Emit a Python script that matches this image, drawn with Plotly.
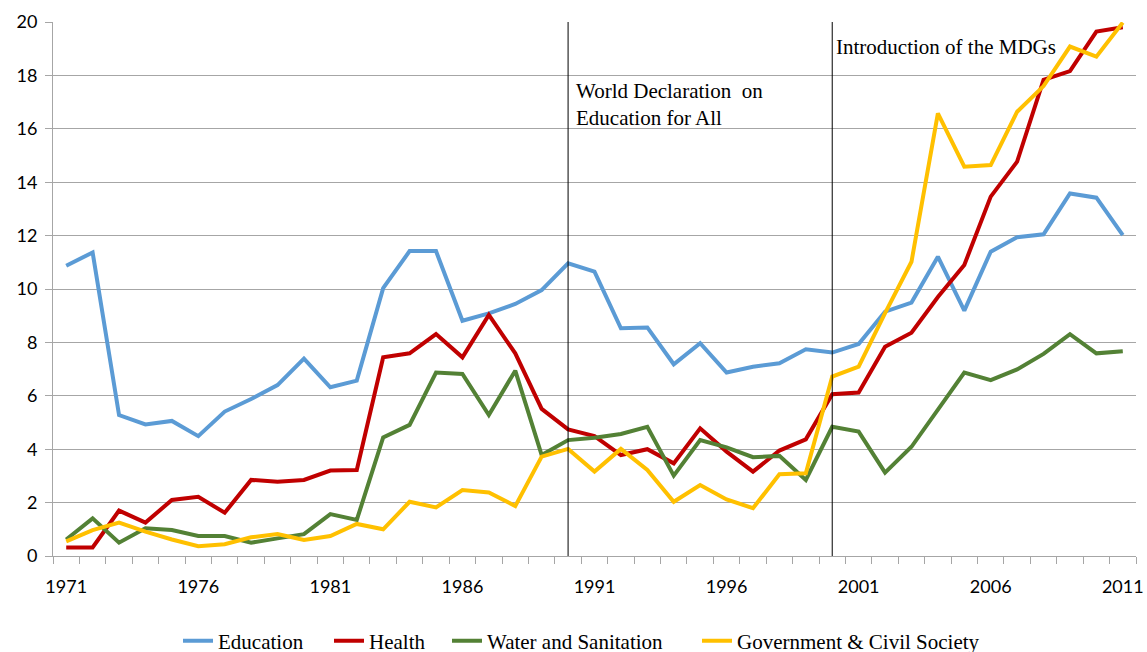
import plotly.graph_objects as go

years = list(range(1971, 2012))

education = [10.87, 11.37, 5.28, 4.93, 5.06, 4.49, 5.41, 5.88, 6.40, 7.39,
             6.32, 6.57, 10.03, 11.42, 11.42, 8.81, 9.09, 9.44, 9.96, 10.96,
             10.65, 8.53, 8.56, 7.18, 7.97, 6.87, 7.09, 7.22, 7.74, 7.62,
             7.94, 9.15, 9.49, 11.21, 9.19, 11.40, 11.94, 12.05, 13.58, 13.42, 12.02]

health = [0.32, 0.32, 1.70, 1.25, 2.10, 2.22, 1.62, 2.85, 2.78, 2.85,
          3.20, 3.22, 7.44, 7.59, 8.31, 7.44, 9.03, 7.59, 5.51, 4.74,
          4.49, 3.78, 4.00, 3.47, 4.78, 3.91, 3.16, 3.95, 4.37, 6.06,
          6.12, 7.84, 8.36, 9.70, 10.90, 13.46, 14.77, 17.83, 18.16, 19.64, 19.80]

water = [0.62, 1.41, 0.50, 1.04, 0.97, 0.75, 0.75, 0.50, 0.66, 0.82,
         1.57, 1.35, 4.44, 4.91, 6.87, 6.82, 5.28, 6.94, 3.78, 4.34,
         4.43, 4.57, 4.84, 3.01, 4.34, 4.07, 3.70, 3.75, 2.85, 4.84,
         4.66, 3.12, 4.09, 5.47, 6.87, 6.59, 6.99, 7.57, 8.31, 7.59, 7.67]

government = [0.55, 0.97, 1.25, 0.91, 0.62, 0.37, 0.44, 0.70, 0.82, 0.60,
              0.75, 1.20, 1.00, 2.03, 1.82, 2.47, 2.38, 1.87, 3.72, 4.01,
              3.16, 4.01, 3.22, 2.03, 2.66, 2.12, 1.79, 3.06, 3.10, 6.72,
              7.09, 9.10, 11.02, 16.58, 14.58, 14.64, 16.64, 17.60, 19.08, 18.70, 19.98]

series_names = ["Education", "Health", "Water and Sanitation", "Government & Civil Society"]
series_colors = ["#5B9BD5", "#C00000", "#538135", "#FFC000"]
series_values = [education, health, water, government]
legend_ids = ["legend", "legend2", "legend3", "legend4"]
legend_left_px = [178, 329, 447, 697]

tick_years = [1971, 1976, 1981, 1986, 1991, 1996, 2001, 2006, 2011]
event_years = [1990, 2000]

W, H = 1147, 652

fig = go.Figure()
for name, color, vals, lid in zip(series_names, series_colors, series_values, legend_ids):
    fig.add_trace(go.Scatter(x=years, y=vals, mode="lines", name=name, legend=lid,
                             line=dict(color=color, width=4), cliponaxis=False))

for ey in event_years:
    fig.add_shape(type="line", x0=ey, x1=ey, y0=0, y1=20, xref="x", yref="y",
                  line=dict(color="#000000", width=1), layer="above")

fig.add_annotation(x=1990, y=16.9, xref="x", yref="y", xanchor="left", yanchor="middle",
                   xshift=6, align="left", showarrow=False,
                   text="World Declaration  on<br>Education for All",
                   font=dict(family="Liberation Serif", size=21, color="#000000"))
fig.add_annotation(x=2000, y=19.06, xref="x", yref="y", xanchor="left", yanchor="middle",
                   xshift=2, align="left", showarrow=False,
                   text="Introduction of the MDGs",
                   font=dict(family="Liberation Serif", size=21, color="#000000"))

legend_common = dict(orientation="h", xref="container", yref="container",
                     xanchor="left", yanchor="middle", y=1 - 641 / H,
                     font=dict(family="Liberation Serif", size=21, color="#000000"),
                     bgcolor="rgba(0,0,0,0)")
layout_legends = {}
for lid, lx in zip(legend_ids, legend_left_px):
    layout_legends[lid] = dict(legend_common, x=lx / W)

fig.update_layout(
    width=W, height=H,
    margin=dict(l=53, r=11, t=22, b=96, autoexpand=False),
    paper_bgcolor="white", plot_bgcolor="white",
    showlegend=True,
    **layout_legends,
    xaxis=dict(range=[1970.5, 2011.5], tickmode="array", tickvals=tick_years,
               ticktext=[str(t) for t in tick_years], ticks="", showgrid=False,
               showline=True, linecolor="#A6A6A6", linewidth=1, zeroline=False,
               ticklabelstandoff=14, automargin=False,
               tickfont=dict(family="Lato", size=18, color="#000000"),
               minor=dict(tick0=1970.5, dtick=1, ticks="outside", ticklen=7,
                          tickcolor="#A6A6A6", showgrid=False)),
    yaxis=dict(range=[0, 20], dtick=2, tick0=0, showgrid=True, gridcolor="#A6A6A6",
               gridwidth=1, showline=True, linecolor="#A6A6A6", linewidth=1,
               ticks="outside", ticklen=7, tickcolor="#A6A6A6", zeroline=False,
               ticklabelstandoff=4, automargin=False,
               tickfont=dict(family="Lato", size=18, color="#000000")),
)

fig.write_html(
    "out.html",
    config={"displayModeBar": False},
    post_script="document.body.style.margin='0';document.documentElement.style.overflow='hidden';document.body.style.overflow='hidden';",
)
